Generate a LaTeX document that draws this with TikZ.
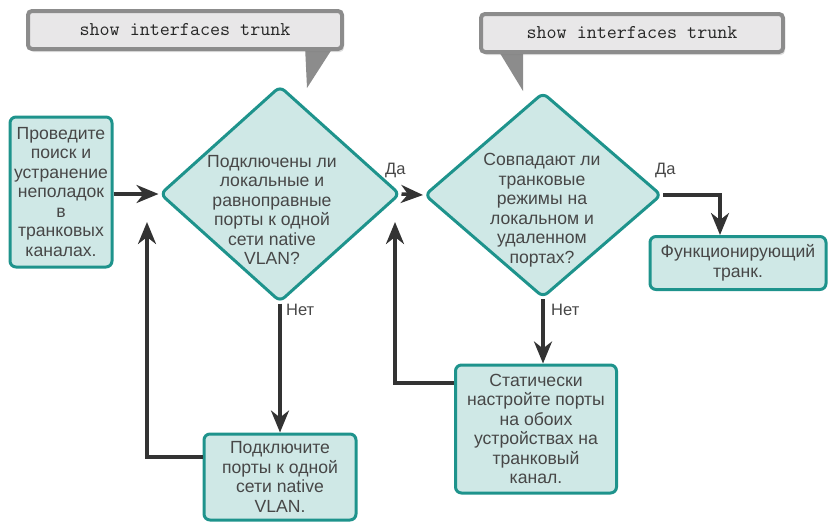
\documentclass[tikz,border=0pt]{standalone}
\usepackage{fontspec}
\setmainfont{Liberation Sans}
\usetikzlibrary{arrows.meta,shapes.geometric,shadows}
\definecolor{tealb}{HTML}{1E938C}
\definecolor{tealf}{HTML}{CFE8E6}
\definecolor{txt}{HTML}{474747}
\definecolor{arrc}{HTML}{333333}
\definecolor{cgray}{HTML}{8C8C8C}
\definecolor{cfill}{HTML}{E8E7E8}
\begin{document}
\begin{tikzpicture}[x=1pt,y=-1pt,
  box/.style={draw=tealb,fill=tealf,line width=3pt,rounded corners=6pt,inner sep=0pt,align=center,text=txt,font=\fontsize{17.6}{19.5}\selectfont},
  dia/.style={draw=tealb,fill=tealf,line width=3pt,rounded corners=6pt,diamond,inner sep=0pt},
  dtext/.style={align=center,text=txt,inner sep=0pt,font=\fontsize{17.6}{19.5}\selectfont},
  callout/.style={draw=cgray,fill=cfill,line width=4pt,rounded corners=4pt,inner sep=0pt,font=\ttfamily\fontsize{19.5}{20}\selectfont,text=black!85,drop shadow={opacity=0.25,shadow xshift=2pt,shadow yshift=-3pt}},
  tail/.style={fill=cgray,draw=none},
  arr/.style={draw=arrc,line width=3.5pt,-{Stealth[length=22pt,width=18pt,inset=7pt]}},
  lbl/.style={text=txt,inner sep=0pt,font=\fontsize{16.5}{18}\selectfont}]
\useasboundingbox (0,0) rectangle (829,523);
% callouts
\fill[tail] (305,46) -- (334,46) -- (307,88) -- cycle;
\node[callout,minimum width=314,minimum height=38] (c1) at (185,30) {show interfaces trunk};
\fill[tail] (498,50) -- (523,50) -- (523,91) -- cycle;
\node[callout,minimum width=302,minimum height=38] (c2) at (632,33) {show interfaces trunk};
% boxes
\node[box,minimum width=102,minimum height=150] (b1) at (61,192) {Проведите\\поиск и\\устранение\\неполадок\\в\\транковых\\каналах.};
\node[box,minimum width=152,minimum height=86] (b2) at (280,477) {Подключите\\порты к одной\\сети native\\VLAN.};
\node[box,minimum width=161,minimum height=128] (b3) at (536,429) {Статически\\настройте порты\\на обоих\\устройствах на\\транковый\\канал.};
\node[box,minimum width=176,minimum height=53] (b4) at (738,263) {Функционирующий\\транк.};
% diamonds
\node[dia,minimum width=240,minimum height=216] (d1) at (280,194) {};
\node[dtext] (t1) at (272,210) {Подключены ли\\локальные и\\равноправные\\порты к одной\\сети native\\VLAN?};
\node[dia,minimum width=237,minimum height=205] (d2) at (543,195) {};
\node[dtext] (t2) at (542,210) {Совпадают ли\\транковые\\режимы на\\локальном и\\удаленном\\портах?};
% loop-back ends
\coordinate (l1) at (147,222);
\coordinate (l2) at (395,222);
% connectors
\draw[arr] (b1.east |- d1.west) -- (d1.west);
\draw[arr] (d1.south) -- (b2.north);
\draw[arr] ([yshift=20pt]b2.west) -| (l1);
\draw[arr] (d1.east) -- (d2.west);
\draw[arr] (d2.south) -- (d2.south |- b3.north);
\draw[arr] ([yshift=46pt]b3.west) -| (l2);
\draw[arr] (d2.east) -| ([xshift=-18pt]b4.north);
% labels
\node[lbl,anchor=west] (y1) at (385,170) {Да};
\node[lbl,anchor=west] (n1) at (286,310) {Нет};
\node[lbl,anchor=west] (y2) at (655,170) {Да};
\node[lbl,anchor=west] (n2) at (551,310) {Нет};
\end{tikzpicture}
\end{document}
